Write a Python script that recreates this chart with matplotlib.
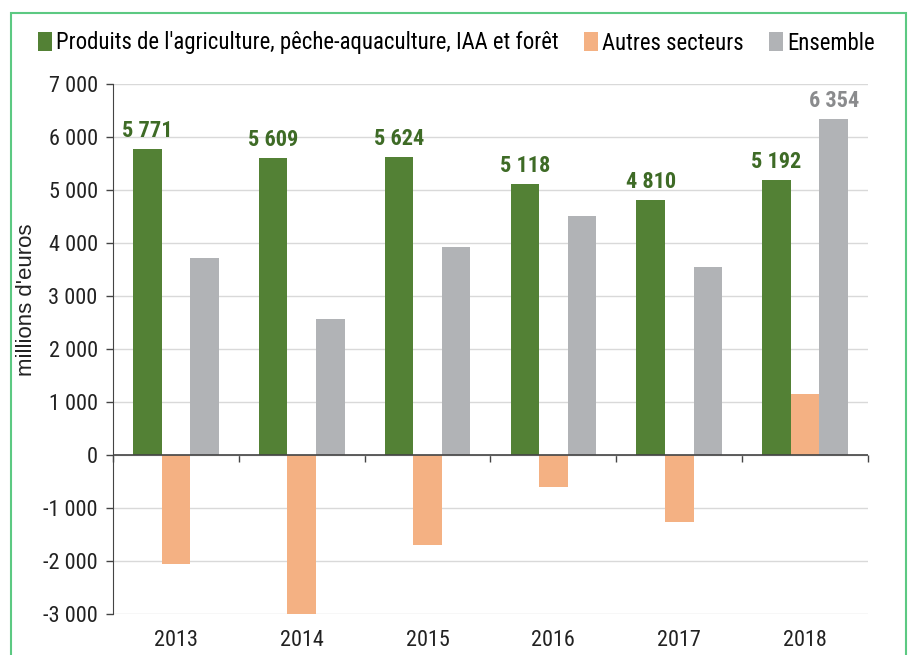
import matplotlib
matplotlib.use("Agg")
import matplotlib.pyplot as plt
from matplotlib import font_manager
from matplotlib.patches import Rectangle
import numpy as np

# data (millions d'euros)
years = ["2013", "2014", "2015", "2016", "2017", "2018"]
agri = [5771, 5609, 5624, 5118, 4810, 5192]
autres = [-2050, -3030, -1700, -600, -1250, 1162]
ensemble = [3721, 2579, 3924, 4518, 3560, 6354]
series_names = ["Produits de l'agriculture, pêche-aquaculture, IAA et forêt",
                "Autres secteurs", "Ensemble"]
yticks = list(range(-3000, 7001, 1000))

# narrow Arial-like font with a real bold face, first one installed
weights = {}
for f in font_manager.fontManager.ttflist:
    weights.setdefault(f.name, set()).add(f.weight)
candidates = ["Liberation Sans Narrow", "Arial Narrow", "Archivo Narrow",
              "Roboto Condensed", "PT Sans Narrow", "IBM Plex Sans Condensed",
              "Sofia Sans Semi Condensed", "Sofia Sans Condensed"]
narrow = "Liberation Sans"
for cand in candidates:
    ws = weights.get(cand, set())
    if 400 in ws and any(wt >= 600 for wt in ws):
        narrow = cand
        break
plt.rcParams['font.family'] = [narrow, 'DejaVu Sans']

c_green = "#538135"
c_orange = "#f4b183"
c_gray = "#b1b3b6"
c_lab_green = "#3e6b26"
c_lab_gray = "#8a8b8d"

def fmt(v):
    s = "{:,}".format(abs(v)).replace(",", " ")
    return ("-" if v < 0 else "") + s

fig = plt.figure(figsize=(9.12, 6.55), dpi=100)
fig.patches.append(Rectangle((11/912, -0.05), 895/912, 1 - 13/655 + 0.05,
                             transform=fig.transFigure, fill=False,
                             edgecolor="#5cc982", linewidth=1.5))

ax = fig.add_axes([113/912, 1 - 614.3/655, (868-113)/912, (614.3-84.3)/655])
x = np.arange(len(years))
w = 0.227
b1 = ax.bar(x - w, agri, w, color=c_green, label=series_names[0], zorder=3)
b2 = ax.bar(x, autres, w, color=c_orange, label=series_names[1], zorder=3)
b3 = ax.bar(x + w, ensemble, w, color=c_gray, label=series_names[2], zorder=3)

for rect, v in zip(b1, agri):
    ax.annotate(fmt(v), (rect.get_x() + rect.get_width()/2, v),
                xytext=(0, 5), textcoords="offset points", ha="center", va="bottom",
                fontsize=16, fontweight="bold", color=c_lab_green)
ax.annotate(fmt(ensemble[-1]), (b3[-1].get_x() + b3[-1].get_width()/2, ensemble[-1]),
            xytext=(0, 5), textcoords="offset points", ha="center", va="bottom",
            fontsize=16, fontweight="bold", color=c_lab_gray)

ax.set_xlim(-0.5, len(years) - 0.5)
ax.set_ylim(-3000, 7000)
ax.set_yticks(yticks)
ax.set_yticklabels([fmt(v) for v in yticks], fontsize=16, color="#222222")
ax.tick_params(axis="y", length=5, width=1, color="#444444", pad=6)
ax.set_xticks(x)
ax.set_xticklabels(years, fontsize=16, color="#222222")
ax.tick_params(axis="x", length=0, pad=11)
ax.grid(axis="y", color="#d9d9d9", linewidth=1, zorder=0)
for s in ["top", "right", "bottom"]:
    ax.spines[s].set_visible(False)
ax.spines["left"].set_color("#444444")

# zero axis line with category boundary ticks
ax.axhline(0, color="#444444", linewidth=1.2, zorder=4)
sec = ax.secondary_xaxis(0.3)
sec.set_xticks(np.arange(-0.5, len(years), 1.0))
sec.set_xticklabels([])
sec.tick_params(length=5, width=1, color="#444444")
sec.spines["bottom"].set_visible(False)

ax.set_ylabel("millions d'euros", fontsize=16, family="Liberation Sans", color="#222222")
ax.yaxis.set_label_coords(-0.100, 0.593)

fig.legend(handles=[b1, b2, b3], loc="center", bbox_to_anchor=(0.5005, 1 - 43/655),
           ncol=3, frameon=False, fontsize=16.4, handlelength=0.6, handleheight=0.9,
           handletextpad=0.2, columnspacing=1.1, borderaxespad=0)

fig.savefig("out.png", dpi=100)
